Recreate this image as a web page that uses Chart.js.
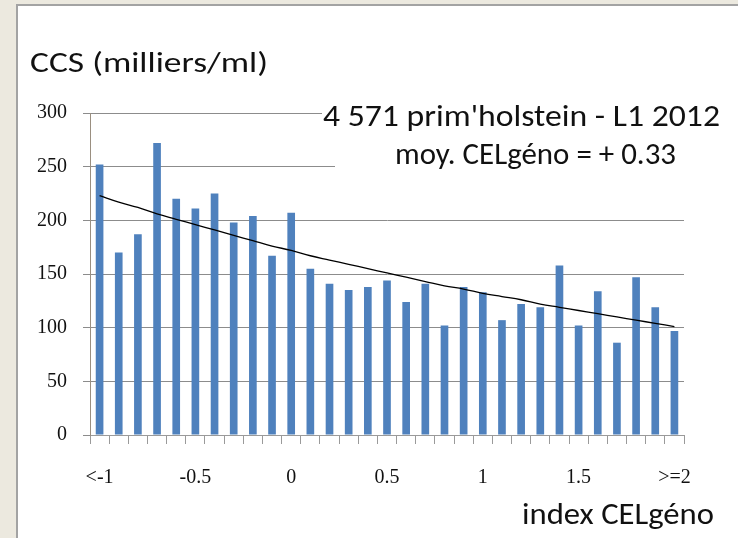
<!DOCTYPE html>
<html>
<head>
<meta charset="utf-8">
<title>CCS selon index CELgéno</title>
<script src="https://cdn.jsdelivr.net/npm/chart.js@4.4.1/dist/chart.umd.min.js"></script>
<style>
    html, body { margin: 0; padding: 0; background: #ece9df; }
    #wrap { position: relative; width: 738px; height: 538px; }
</style>
</head>
<body>
<div id="wrap"><canvas id="ccsChart" width="738" height="538"></canvas></div>
<script>
// ===================================
// DATA
// ===================================

const categories = [
    '<-1', '-0.9', '-0.8', '-0.7', '-0.6', '-0.5', '-0.4', '-0.3', '-0.2', '-0.1',
    '0', '0.1', '0.2', '0.3', '0.4', '0.5', '0.6', '0.7', '0.8', '0.9',
    '1', '1.1', '1.2', '1.3', '1.4', '1.5', '1.6', '1.7', '1.8', '1.9', '>=2'
];

// CCS moyennes (milliers/ml) par classe d'index
const ccsValues = [
    252, 170, 187, 272, 220, 211, 225, 198, 204, 167,
    207, 155, 141, 135, 138, 144, 124, 141, 102, 138,
    133, 107, 122, 119, 158, 102, 134, 86, 147, 119, 97
];

// courbe de tendance
const trendValues = [
    223, 217, 212, 206, 201, 196, 191, 186, 181, 176,
    172, 167, 163, 159, 155, 151, 147, 143, 139, 136,
    132, 129, 126, 122, 119, 116, 113, 110, 107, 104, 101
];

const yTicks = [0, 50, 100, 150, 200, 250, 300];

const chartTitle = 'CCS (milliers/ml)';
const noteLines = ["4 571 prim'holstein - L1 2012", 'moy. CELgéno = + 0.33'];
const xAxisTitle = 'index CELgéno';

// ===================================
// HELPERS
// ===================================

const SANS = 'Carlito, Lato, "Open Sans", sans-serif';
const SERIF = '"Liberation Serif", "DejaVu Serif", serif';

/**
 * Draw text squeezed or stretched to a target width
 */
function drawFitted(ctx, str, left, baseline, size, width) {
    ctx.save();
    ctx.font = size + 'px ' + SANS;
    ctx.fillStyle = '#111';
    ctx.textBaseline = 'alphabetic';
    ctx.textAlign = 'left';
    const w = ctx.measureText(str).width;
    ctx.translate(left, baseline);
    ctx.scale(width / w, 1);
    ctx.fillText(str, 0, 0);
    ctx.restore();
}

// white panel with grey frame
const panelPlugin = {
    id: 'panel',
    beforeDraw(chart) {
        const ctx = chart.ctx;
        ctx.save();
        ctx.fillStyle = '#ece9df';
        ctx.fillRect(0, 0, chart.width, chart.height);
        ctx.fillStyle = '#ffffff';
        ctx.fillRect(16, 5, chart.width, chart.height);
        ctx.strokeStyle = '#a3a3a3';
        ctx.lineWidth = 2;
        ctx.beginPath();
        ctx.moveTo(17, chart.height);
        ctx.lineTo(17, 5);
        ctx.lineTo(chart.width, 5);
        ctx.stroke();
        ctx.restore();
    }
};

// titles and annotation box
const textPlugin = {
    id: 'texts',
    afterDraw(chart) {
        const ctx = chart.ctx;
        ctx.save();
        // the annotation box hides the grid lines behind it
        ctx.fillStyle = '#ffffff';
        ctx.fillRect(322, 98, 414, 44);
        ctx.fillRect(335, 142, 401, 46);
        ctx.restore();

        drawFitted(ctx, chartTitle, 30, 72, 29, 238);
        drawFitted(ctx, noteLines[0], 323, 126, 30, 397);
        drawFitted(ctx, noteLines[1], 395, 164, 30, 281);
        drawFitted(ctx, xAxisTitle, 522, 524, 30, 192);
    }
};

// ===================================
// CHART
// ===================================

const ctx = document.getElementById('ccsChart').getContext('2d');

new Chart(ctx, {
    type: 'bar',
    data: {
        labels: categories,
        datasets: [
            {
                type: 'line',
                label: 'tendance',
                data: trendValues,
                borderColor: '#000000',
                borderWidth: 1.3,
                pointRadius: 0,
                tension: 0.4,
                fill: false,
                order: 0
            },
            {
                label: 'CCS',
                data: ccsValues,
                backgroundColor: '#4f81bd',
                borderWidth: 0,
                barPercentage: 0.4,
                categoryPercentage: 1.0,
                order: 1
            }
        ]
    },
    options: {
        responsive: false,
        animation: false,
        layout: {
            padding: { top: 113, right: 54, left: 0, bottom: 0 }
        },
        plugins: {
            legend: { display: false },
            tooltip: { enabled: false }
        },
        scales: {
            x: {
                offset: true,
                grid: {
                    offset: true,
                    drawOnChartArea: false,
                    drawTicks: true,
                    tickLength: 9,
                    color: '#9a9a9a'
                },
                border: { color: '#9a9a9a', width: 1 },
                ticks: {
                    autoSkip: false,
                    maxRotation: 0,
                    minRotation: 0,
                    padding: 22,
                    color: '#111',
                    font: { family: SERIF, size: 20 },
                    callback: function(value, index) {
                        return index % 5 === 0 ? categories[index] : '';
                    }
                },
                afterFit: function(scale) { scale.height = 103; }
            },
            y: {
                min: 0,
                max: 300,
                afterBuildTicks: function(scale) {
                    scale.ticks = yTicks.map(v => ({ value: v }));
                },
                grid: {
                    color: '#8c8c8c',
                    lineWidth: 1,
                    tickLength: 7
                },
                border: { color: '#9a8f80', width: 1 },
                ticks: {
                    padding: 16,
                    color: '#111',
                    font: { family: SERIF, size: 20 }
                },
                afterFit: function(scale) { scale.width = 90; }
            }
        }
    },
    plugins: [panelPlugin, textPlugin]
});
</script>
</body>
</html>
